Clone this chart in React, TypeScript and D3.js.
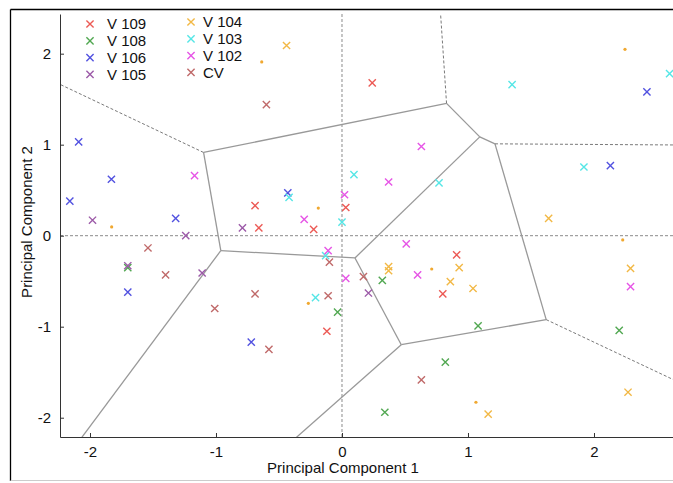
import { useEffect, useRef } from 'react';
import * as d3 from 'd3';

// group names + colours (legend order, two columns)
const groups = ['V 109', 'V 108', 'V 106', 'V 105', 'V 104', 'V 103', 'V 102', 'CV'];
const colors = ['#ec5a55', '#52a852', '#5252e0', '#9c5aa8', '#f2b845', '#55e6e6', '#e655e6', '#c06a6a'];

// PCA scores per group [PC1, PC2]
const v109 = [[0.24, 1.68], [-0.69, 0.33], [-0.66, 0.085], [-0.225, 0.07], [0.03, 0.31], [-0.12, -1.05], [0.8, -0.64], [0.91, -0.21]];
const v108 = [[-0.035, -0.84], [0.32, -0.49], [1.08, -0.99], [0.82, -1.39], [0.34, -1.94], [2.2, -1.04], [-1.7, -0.35]];
const v106 = [[-2.09, 1.03], [-1.83, 0.62], [-2.16, 0.38], [-1.32, 0.19], [-1.7, -0.62], [-0.72, -1.17], [-0.43, 0.47], [2.42, 1.58], [2.13, 0.77]];
const v105 = [[-1.98, 0.17], [-1.24, 0.0], [-1.11, -0.41], [-0.79, 0.085], [0.21, -0.63], [-1.7, -0.33]];
const v104 = [[-0.44, 2.09], [1.64, 0.19], [2.29, -0.36], [2.27, -1.72], [0.37, -0.34], [0.37, -0.385], [0.93, -0.35], [0.86, -0.505], [1.04, -0.58], [1.16, -1.96]];
const v103 = [[1.35, 1.66], [2.6, 1.78], [1.92, 0.755], [0.095, 0.67], [0.77, 0.58], [-0.42, 0.42], [0.0, 0.15], [-0.13, -0.22], [-0.21, -0.68]];
const v102 = [[-1.17, 0.66], [0.63, 0.98], [0.37, 0.59], [0.02, 0.45], [-0.3, 0.18], [-0.11, -0.165], [0.51, -0.09], [0.6, -0.43], [0.03, -0.47], [2.29, -0.56]];
const cv = [[-0.6, 1.44], [-1.54, -0.135], [-1.4, -0.43], [-1.01, -0.8], [-0.69, -0.64], [-0.58, -1.25], [-0.11, -0.66], [-0.1, -0.29], [0.17, -0.45], [0.63, -1.585]];
const series = [v109, v108, v106, v105, v104, v103, v102, cv];

// cluster centres (the small dots) -> Voronoi generators
const centroids: [number, number][] = [
  [-0.637, 1.909], [-1.828, 0.096], [-0.188, 0.304], [2.246, 2.048],
  [2.228, -0.047], [0.712, -0.366], [1.063, -1.83], [-0.267, -0.743],
];
// unbounded edges drawn solid (by centroid index pair), the rest are dashed
const solidRays = [[1, 7], [7, 6]];

const xTicks = [-2, -1, 0, 1, 2];
const yTicks = [-2, -1, 0, 1, 2];

export default function App() {
  const width = 673;
  const height = 483;
  const left = 60, right = 673, top = 14, bottom = 437;

  const x = d3.scaleLinear().domain([-2.238, 2.627]).range([left, right]);
  const y = d3.scaleLinear().domain([-2.212, 2.436]).range([bottom, top]);

  const gx = useRef<SVGGElement>(null);
  const gy = useRef<SVGGElement>(null);

  useEffect(() => {
    const ax = d3.select(gx.current!).call(d3.axisBottom(x).tickValues(xTicks).tickSize(-4).tickSizeOuter(0).tickPadding(9).tickFormat(d3.format('d')));
    const ay = d3.select(gy.current!).call(d3.axisLeft(y).tickValues(yTicks).tickSize(-4).tickSizeOuter(0).tickPadding(9).tickFormat(d3.format('d')));
    [ax, ay].forEach(a => {
      a.selectAll('.domain').attr('stroke', '#333');
      a.selectAll('.tick line').attr('stroke', '#333');
      a.selectAll('text').attr('font-size', 15).attr('font-family', 'Liberation Sans, Arial, sans-serif').attr('fill', '#111');
    });
    // replace hyphen with minus look like reference (keeps plain "-")
    ax.selectAll('text').text((d: any) => String(d));
    ay.selectAll('text').text((d: any) => String(d));
  }, []);

  // Voronoi edges from the centroids (in data units)
  const delaunay = d3.Delaunay.from(centroids, d => d[0], d => d[1]);
  const vor = delaunay.voronoi([-10, -10, 10, 10]);
  const cc = vor.circumcenters;
  const { triangles, halfedges } = delaunay;
  const nextE = (e: number) => (e % 3 === 2 ? e - 2 : e + 1);
  const edges: { x1: number; y1: number; x2: number; y2: number; dashed: boolean }[] = [];
  for (let e = 0; e < halfedges.length; e++) {
    const j = halfedges[e];
    const t = Math.floor(e / 3);
    if (j > e) {
      const t2 = Math.floor(j / 3);
      edges.push({ x1: cc[2 * t], y1: cc[2 * t + 1], x2: cc[2 * t2], y2: cc[2 * t2 + 1], dashed: false });
    } else if (j === -1) {
      const p = triangles[e], q = triangles[nextE(e)], r = triangles[nextE(nextE(e))];
      const [px, py] = centroids[p], [qx, qy] = centroids[q], [rx, ry] = centroids[r];
      let nx = -(qy - py), ny = qx - px;
      if (nx * (rx - px) + ny * (ry - py) > 0) { nx = -nx; ny = -ny; }
      const len = Math.hypot(nx, ny);
      const cx = cc[2 * t], cy = cc[2 * t + 1];
      const solid = solidRays.some(([a, b]) => (a === p && b === q) || (a === q && b === p));
      edges.push({ x1: cx, y1: cy, x2: cx + (nx / len) * 20, y2: cy + (ny / len) * 20, dashed: !solid });
    }
  }

  const cross = 'M-3.6,-3.6L3.6,3.6M-3.6,3.6L3.6,-3.6';
  const font = 'Liberation Sans, Arial, sans-serif';

  const legendCols = [
    { mx: 90, tx: 107, y0: 24 },
    { mx: 191, tx: 203, y0: 22 },
  ];

  return (
    <svg width={width} height={height} style={{ position: 'absolute', left: 0, top: 0, background: '#fff' }}>
      <rect x={0} y={0} width={width} height={height} fill="#fff" />
      {/* figure frame */}
      <line x1={10.5} y1={9.5} x2={width} y2={9.5} stroke="#000" strokeWidth={1.3} />
      <line x1={10.5} y1={9.5} x2={10.5} y2={481} stroke="#000" strokeWidth={1.3} />
      <line x1={10.5} y1={480.5} x2={width} y2={480.5} stroke="#ccc" strokeWidth={1} />

      <defs>
        <clipPath id="plot">
          <rect x={left} y={top} width={right - left} height={bottom - top} />
        </clipPath>
      </defs>

      <g clipPath="url(#plot)">
        <line x1={x(0)} x2={x(0)} y1={top} y2={bottom} stroke="#8a8a8a" strokeDasharray="3,2" />
        <line x1={left} x2={right} y1={y(0)} y2={y(0)} stroke="#8a8a8a" strokeDasharray="3,2" />
        {edges.map((d, i) => (
          <line key={i} x1={x(d.x1)} y1={y(d.y1)} x2={x(d.x2)} y2={y(d.y2)}
            stroke={d.dashed ? '#7a7a7a' : '#999'} strokeWidth={d.dashed ? 1 : 1.3}
            strokeDasharray={d.dashed ? '3,2' : undefined} />
        ))}
        {series.map((pts, si) => (
          <g key={si} stroke={colors[si]} strokeWidth={1.4} fill="none">
            {pts.map((p, i) => <path key={i} d={cross} transform={`translate(${x(p[0])},${y(p[1])})`} />)}
          </g>
        ))}
        {centroids.map((c, i) => <circle key={i} cx={x(c[0])} cy={y(c[1])} r={1.6} fill="#f0a830" />)}
      </g>

      <g ref={gx} transform={`translate(0,${bottom})`} />
      <g ref={gy} transform={`translate(${left},0)`} />

      <text x={343} y={473} textAnchor="middle" fontSize={15} fontFamily={font} fill="#111">Principal Component 1</text>
      <text transform={`translate(32,222) rotate(-90)`} textAnchor="middle" fontSize={15} fontFamily={font} fill="#111">Principal Component 2</text>

      {groups.map((g, i) => {
        const col = legendCols[Math.floor(i / 4)];
        const yy = col.y0 + (i % 4) * 16.8;
        return (
          <g key={g}>
            <path d={cross} transform={`translate(${col.mx},${yy})`} stroke={colors[i]} strokeWidth={1.4} fill="none" />
            <text x={col.tx} y={yy} dy="0.36em" fontSize={15} fontFamily={font} fill="#111">{g}</text>
          </g>
        );
      })}
    </svg>
  );
}
